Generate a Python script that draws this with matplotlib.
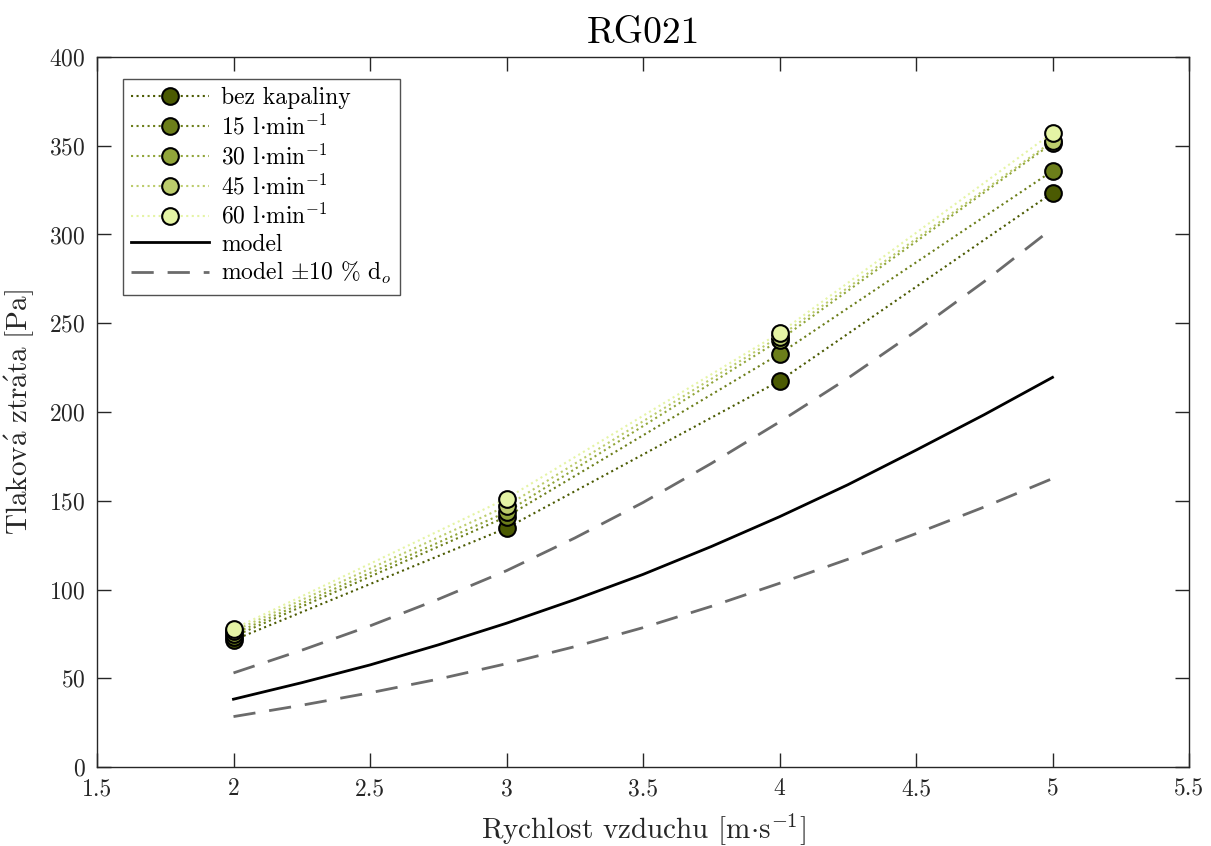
import matplotlib
matplotlib.use("Agg")
import matplotlib.pyplot as plt

plt.rcParams['font.family'] = 'serif'
plt.rcParams['font.serif'] = ['cmr10']
plt.rcParams['mathtext.fontset'] = 'cm'
plt.rcParams['axes.formatter.use_mathtext'] = True

# measured data
velocity = [2, 3, 4, 5]
series_labels = ['bez kapaliny', r'15 l$\cdot$min$^{-1}$', r'30 l$\cdot$min$^{-1}$',
                 r'45 l$\cdot$min$^{-1}$', r'60 l$\cdot$min$^{-1}$']
dp_bez = [71.5, 134.6, 217.5, 323.5]
dp_15 = [73.5, 141.0, 232.7, 335.8]
dp_30 = [75.0, 143.6, 240.5, 351.5]
dp_45 = [76.5, 147.0, 242.5, 352.5]
dp_60 = [77.8, 151.2, 244.5, 357.3]
series_values = [dp_bez, dp_15, dp_30, dp_45, dp_60]
series_colors = ['#4b5a02', '#6c7e1a', '#91a53a', '#bccc6c', '#e5f4a5']

# model curves
model_v = [2.0, 2.25, 2.5, 2.75, 3.0, 3.25, 3.5, 3.75, 4.0, 4.25, 4.5, 4.75, 5.0]
model_dp = [38.2, 47.5, 57.5, 68.8, 81.0, 94.3, 108.5, 124.2, 141.0, 159.0, 178.5, 198.5, 219.5]
model_dp_upper = [53.0, 65.8, 79.5, 94.5, 110.6, 129.0, 149.0, 171.0, 194.4, 219.0, 245.5, 273.5, 303.5]
model_dp_lower = [28.4, 34.8, 41.8, 49.5, 58.2, 67.8, 78.5, 90.5, 103.5, 117.0, 131.5, 146.5, 162.5]

fig = plt.figure(figsize=(12.11, 8.46), dpi=100)
ax = fig.add_axes([97/1211, 1-767/846, (1189-97)/1211, (767-57)/846])

for vals, col, lab in zip(series_values, series_colors, series_labels):
    ax.plot(velocity, vals, linestyle=':', color=col, linewidth=1.5,
            marker='o', markersize=12, markerfacecolor=col,
            markeredgecolor='black', markeredgewidth=1.5, label=lab)

ax.plot(model_v, model_dp, color='black', linewidth=2, label='model')
ax.plot(model_v, model_dp_upper, color='#6b6b6b', linewidth=2,
        dashes=(8, 5), label=r'model $\pm$10 % d$_o$')
ax.plot(model_v, model_dp_lower, color='#6b6b6b', linewidth=2, dashes=(8, 5))

ax.set_xlim(1.5, 5.5)
ax.set_ylim(0, 400)
ax.set_xticks([1.5, 2, 2.5, 3, 3.5, 4, 4.5, 5, 5.5])
ax.set_xticklabels(['1.5', '2', '2.5', '3', '3.5', '4', '4.5', '5', '5.5'])
ax.set_yticks(range(0, 401, 50))
ax.tick_params(direction='in', length=10, width=1, top=True, right=True,
               labelsize=17, colors='#262626', pad=8)
for s in ax.spines.values():
    s.set_color('#262626')
    s.set_linewidth(1)

ax.set_xlabel(r'Rychlost vzduchu [m$\cdot$s$^{-1}$]', fontsize=21, color='#262626', labelpad=8)
ax.set_ylabel(r'$\mathrm{Tlakov\acute{a}\ ztr\acute{a}ta\ [Pa]}$', fontsize=21, color='#262626', labelpad=10)
ax.set_title('RG021', fontsize=27, pad=10)

leg = ax.legend(loc='upper left', bbox_to_anchor=(0.024, 0.969), fontsize=17,
                frameon=True, fancybox=False, edgecolor='#262626',
                handlelength=3.3, labelspacing=0.2, borderpad=0.35,
                borderaxespad=0, handletextpad=0.5)
leg.get_frame().set_linewidth(1)

fig.savefig('out.png', dpi=100)
